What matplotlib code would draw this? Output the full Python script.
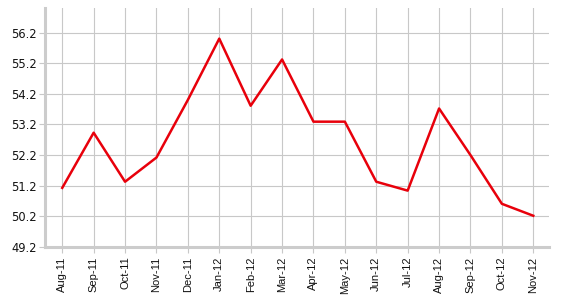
from matplotlib import pyplot as plt

# monthly values
months = ["Aug-11", "Sep-11", "Oct-11", "Nov-11", "Dec-11", "Jan-12", "Feb-12", "Mar-12",
          "Apr-12", "May-12", "Jun-12", "Jul-12", "Aug-12", "Sep-12", "Oct-12", "Nov-12"]
values = [51.13, 52.93, 51.33, 52.12, 54.0, 56.0, 53.81, 55.32,
          53.29, 53.29, 51.33, 51.04, 53.72, 52.2, 50.61, 50.22]
y_ticks = [49.2, 50.2, 51.2, 52.2, 53.2, 54.2, 55.2, 56.2]

fig = plt.figure(figsize=(5.68, 3.06), dpi=100)
ax = fig.add_axes([0.0792, 0.1928, 0.8873, 0.7811])

x = range(len(months))
ax.plot(x, values, color="#e8000b", linewidth=1.8, zorder=3)

ax.set_xlim(-0.55, 15.5)
ax.set_ylim(49.2, 57.0)
ax.set_yticks(y_ticks)
ax.set_yticklabels(["%.1f" % v for v in y_ticks])
ax.set_xticks(list(x))
ax.set_xticklabels(months, rotation=90, family="Liberation Sans", fontsize=8)

ax.grid(True, color="#c8c8c8", linewidth=0.8)
ax.set_axisbelow(True)
for side in ["top", "right"]:
    ax.spines[side].set_visible(False)
for side in ["left", "bottom"]:
    ax.spines[side].set_color("#cccccc")
    ax.spines[side].set_linewidth(2.2)
ax.tick_params(axis="both", colors="#c8c8c8", length=4, width=0.8, labelcolor="#111111")
ax.tick_params(axis="y", pad=2, labelsize=8.3)
ax.tick_params(axis="x", pad=3)

plt.savefig("out.png", dpi=100)
